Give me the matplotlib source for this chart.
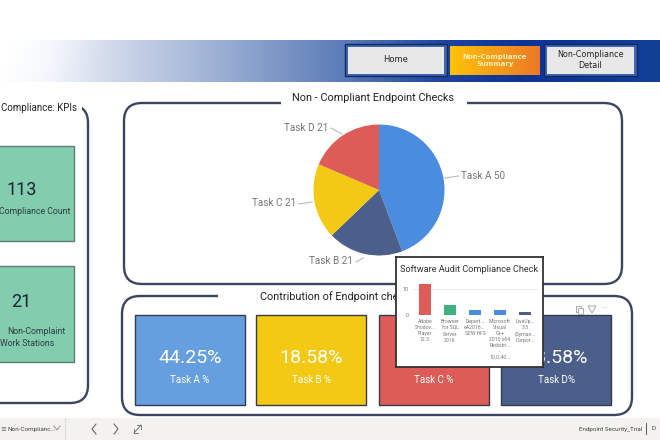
# -*- coding: utf-8 -*-
import numpy as np
import matplotlib.pyplot as plt
from matplotlib.patches import FancyBboxPatch, Rectangle, Polygon

plt.rcParams['font.family'] = ['Roboto', 'DejaVu Sans']

pieNames = ['Task A', 'Task B', 'Task C', 'Task D']
pieValues = [50, 21, 21, 21]
pieColors = ['#4A8CDD', '#4C5E8A', '#F3C913', '#DE5C58']

cardValues = ['44.25%', '18.58%', '18.58%', '18.58%']
cardNames = ['Task A %', 'Task B %', 'Task C %', 'Task D%']
cardColors = ['#669FE0', '#F3C913', '#DE5C58', '#4C5E8A']

barNames = ['Adobe\nShodov...\nPlayer\n12.3', 'Browser\nfor SQL\nServer\n2016', 'Depart...\neA2016...\nSEW HFS',
            'Microsoft\nVisual\nC++\n2010 x64\nRedistri...\n-\n10.0.40...', 'LiveUp...\n3.3\n(Syman...\nCorpor...']
barValues = [12, 4, 2, 2, 1]
barColors = ['#DE5C58', '#3FB07F', '#4A8CDD', '#4A8CDD', '#4C5E8A']

kpiValues = ['113', '21']
lineColor = '#3B4560'


def pxAxes(x0, y0, x1, y1):
    '''axes from pixel corners, y counted from the top'''
    return plt.axes([x0/660.0, 1-y1/440.0, (x1-x0)/660.0, (y1-y0)/440.0])


def roundBox(x0, y0, x1, y1):
    plt.gca().add_patch(FancyBboxPatch((x0+18, y0+18), x1-x0-36, y1-y0-36, boxstyle='round,pad=18,rounding_size=18',
                                       fc='white', ec=lineColor, lw=1.7))


def drawButton(x0, y0, x1, y1, label, size):
    plt.gca().add_patch(Rectangle((x0, y0), x1-x0, y1-y0, fc='#3F66AE', ec='#0D2A66', lw=1, zorder=2))
    plt.gca().add_patch(Rectangle((x0+3, y0+3), x1-x0-6, y1-y0-5, fc='#E8E8E8', ec='none', zorder=2))
    plt.text((x0+x1)/2.0, (y0+y1)/2.0, label, ha='center', va='center', fontsize=size, color='#222222',
             family='DejaVu Sans', zorder=3)


def drawBanner():
    xx, yy = np.meshgrid(np.arange(660.0), np.linspace(0, 1, 42))
    t = xx + 35*(yy-0.5)*(xx < 120)*(120-xx)/120.0 - 15*yy*(xx < 120)*(120-xx)/120.0
    stops = [0, 45, 100, 200, 340, 440, 520, 660]
    img = np.dstack([np.interp(t, stops, [1.0, 0.96, 0.84, 0.65, 0.36, 0.12, 0.05, 0.07]),
                     np.interp(t, stops, [1.0, 0.97, 0.87, 0.72, 0.49, 0.27, 0.20, 0.25]),
                     np.interp(t, stops, [1.0, 0.99, 0.93, 0.85, 0.72, 0.62, 0.58, 0.59])])
    plt.imshow(img, extent=(0, 660, 82, 40), aspect='auto', zorder=1)

    # the three page buttons
    drawButton(345, 44, 447, 76, 'Home', 6)
    orange = np.linspace(0, 1, 90).reshape(1, 90, 1)
    img = np.array([1.0, 0.76, 0.03]) + (np.array([0.93, 0.47, 0.16])-np.array([1.0, 0.76, 0.03]))*orange
    plt.imshow(img, extent=(450, 540, 75, 46), aspect='auto', zorder=2)
    plt.text(495, 60.5, 'Non-Compliance\nSummary', ha='center', va='center', fontsize=5, color='#FFF0B8',
             family='DejaVu Sans', fontweight='bold', zorder=3)
    drawButton(544, 44, 637, 76, 'Non-Compliance\nDetail', 5.8)
    plt.xlim(0, 660)
    plt.ylim(440, 0)


def drawPanels():
    roundBox(-30, 105, 88, 403)
    roundBox(124, 103, 622, 284)
    roundBox(122, 296, 632, 415)
    # gaps in the border for the titles
    plt.gca().add_patch(Rectangle((0, 100), 82, 12, fc='white', ec='none', zorder=2))
    plt.gca().add_patch(Rectangle((281, 98), 186, 12, fc='white', ec='none', zorder=2))
    plt.gca().add_patch(Rectangle((218, 291), 180, 12, fc='white', ec='none', zorder=2))
    plt.text(77, 108, 'Compliance: KPIs', ha='right', va='center', fontsize=7, color='#222222', zorder=3)
    plt.text(373, 98, 'Non - Compliant Endpoint Checks', ha='center', va='center', fontsize=7.8, color='#222222', zorder=3)
    plt.text(260, 297, 'Contribution of Endpoint chec', ha='left', va='center', fontsize=7.8, color='#222222', zorder=3)


def drawKpis():
    plt.gca().add_patch(Rectangle((-5, 146), 79, 95, fc='#82CDAE', ec='#5A7F70', lw=1, zorder=3))
    plt.gca().add_patch(Rectangle((-5, 266), 79, 96, fc='#82CDAE', ec='#5A7F70', lw=1, zorder=3))
    plt.text(22, 190, kpiValues[0], ha='center', va='center', fontsize=13, color='#1C2433', zorder=4)
    plt.text(70, 211, 'Compliance Count', ha='right', va='center', fontsize=6.3, color='#2F3B45', zorder=4)
    plt.text(21, 302, kpiValues[1], ha='center', va='center', fontsize=13, color='#1C2433', zorder=4)
    plt.text(65, 331, 'Non-Complaint', ha='right', va='center', fontsize=6.3, color='#2F3B45', zorder=4)
    plt.text(54, 343, 'Work Stations', ha='right', va='center', fontsize=6.3, color='#2F3B45', zorder=4)


def drawCards():
    lefts = [135, 256, 379, 501]
    for i in np.arange(len(cardValues)):
        plt.gca().add_patch(Rectangle((lefts[i], 315), 110, 90, fc=cardColors[i], ec='#333B4D', lw=1, zorder=3))
        plt.text(lefts[i]+55, 358, cardValues[i], ha='center', va='center', fontsize=14, color='white', zorder=4)
        plt.text(lefts[i]+55, 380, cardNames[i], ha='center', va='center', fontsize=7, color='white', zorder=4)
    # little visual header icons, copy and filter
    plt.gca().add_patch(Rectangle((576, 306), 5, 6, fc='none', ec='#AAAAAA', lw=0.7, zorder=4))
    plt.gca().add_patch(Rectangle((578, 308), 5, 6, fc='white', ec='#AAAAAA', lw=0.7, zorder=4))
    plt.gca().add_patch(Polygon([(588, 306), (596, 306), (592, 313)], fc='none', ec='#AAAAAA', lw=0.7, zorder=4))
    plt.text(605, 308, '···', ha='center', va='center', fontsize=6, color='#AAAAAA', zorder=4)


def drawPieLabels():
    # text, text x, text y, align and the leader line
    labels = [(pieNames[0]+' %d' % pieValues[0], 461, 176, 'left', [445, 459], [178, 176]),
              (pieNames[1]+' %d' % pieValues[1], 353, 261, 'right', [356, 363], [262, 258]),
              (pieNames[2]+' %d' % pieValues[2], 296, 203, 'right', [299, 312], [204, 202]),
              (pieNames[3]+' %d' % pieValues[3], 328, 128, 'right', [331, 342], [128, 134])]
    for name, x, y, align, lx, ly in labels:
        plt.text(x, y, name, ha=align, va='center', fontsize=7.2, color='#777777', zorder=4)
        plt.plot(lx, ly, color='#BBBBBB', lw=0.8, zorder=4)


def drawFooter():
    plt.gca().add_patch(Rectangle((0, 418), 660, 22, fc='#F3F2F1', ec='none', zorder=3))
    plt.plot([65, 65], [418, 440], color='#DDDDDD', lw=0.8, zorder=4)
    plt.text(0, 429, '≡', ha='left', va='center', fontsize=5, color='#666666', family='DejaVu Sans', zorder=4)
    plt.text(8, 429, 'Non-Complianc...', ha='left', va='center', fontsize=4.6, color='#444444', zorder=4)
    plt.plot([54, 57, 60], [426, 430, 426], color='#888888', lw=0.6, zorder=4)
    plt.plot([96, 92, 96], [424, 429, 434], color='#555555', lw=0.7, zorder=4)
    plt.plot([114, 118, 114], [424, 429, 434], color='#555555', lw=0.7, zorder=4)
    # focus mode arrows
    plt.plot([134, 141], [433, 425], color='#666666', lw=0.6, zorder=4)
    plt.plot([137, 141, 141], [425, 425, 429], color='#666666', lw=0.6, zorder=4)
    plt.plot([134, 134, 138], [429, 433, 433], color='#666666', lw=0.6, zorder=4)
    plt.text(579, 429, 'Endpoint Security_Trial', ha='left', va='center', fontsize=4.5, color='#444444', zorder=4)
    plt.plot([646, 646], [423, 434], color='#555555', lw=0.7, zorder=4)
    plt.text(651, 429, 'D', ha='left', va='center', fontsize=4.6, color='#444444', zorder=4)


def drawPie():
    pxAxes(313.5, 124.5, 444.5, 255.5)
    plt.pie(pieValues, colors=pieColors, startangle=90, counterclock=False, radius=1.0)
    plt.xlim(-1, 1)
    plt.ylim(-1, 1)


def drawTooltip():
    ax = pxAxes(396, 257, 543, 367)
    plt.xticks([])
    plt.yticks([])
    ax.set_zorder(5)
    for s in ax.spines.values():
        s.set_color('#333333')
        s.set_linewidth(1.3)
    plt.text(0.03, 0.89, 'Software Audit Compliance Check', transform=ax.transAxes, fontsize=6.6, color='#333333',
             ha='left', va='center')

    ax2 = pxAxes(412.5, 275, 537.5, 315)
    ax2.set_zorder(6)
    ax2.patch.set_alpha(0)
    x = np.arange(len(barValues))
    plt.grid(axis='y', color='#E6E6E6', lw=0.6)
    ax2.set_axisbelow(True)
    plt.bar(x, barValues, width=0.47, color=barColors)
    plt.xlim(-0.5, 4.5)
    plt.ylim(0, 15.4)
    plt.yticks([0, 10], ['0', '10'], fontsize=4, color='#777777')
    plt.xticks(x, barNames, fontsize=3.7, color='#777777', linespacing=1.25)
    plt.tick_params(length=0, pad=3)
    for s in ax2.spines.values():
        s.set_visible(False)


fig = plt.figure(figsize=(6.6, 4.4), dpi=100)
pxAxes(0, 0, 660, 440)
drawBanner()
drawPanels()
drawKpis()
drawCards()
drawPieLabels()
drawFooter()
plt.xlim(0, 660)
plt.ylim(440, 0)
plt.axis('off')

drawPie()
drawTooltip()

plt.savefig('out.png', dpi=100)
